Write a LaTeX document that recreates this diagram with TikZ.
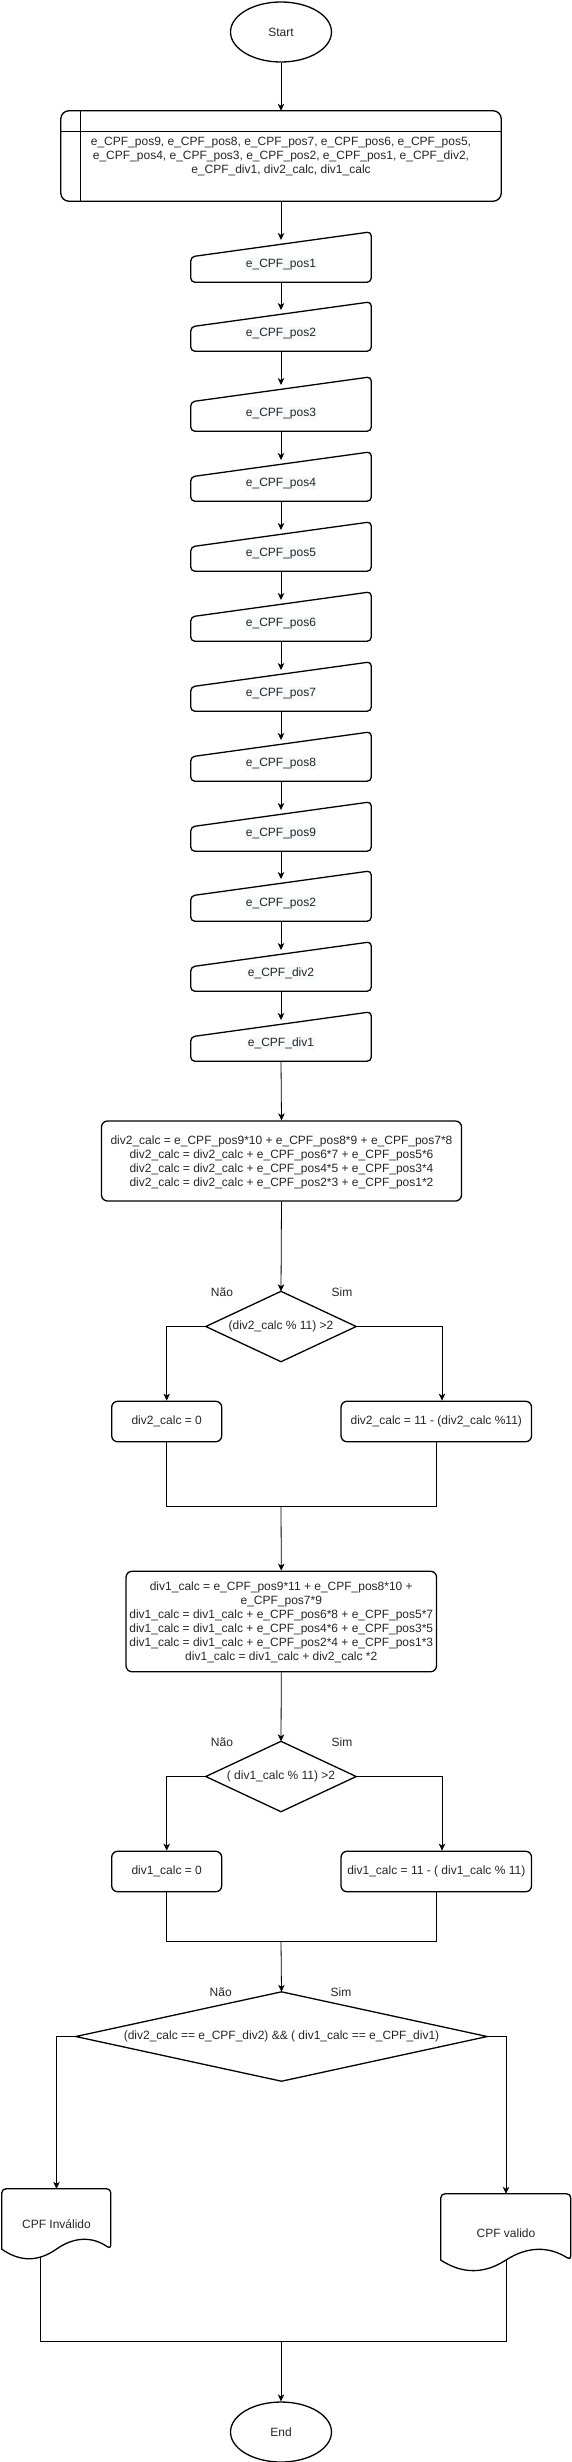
\documentclass[tikz,border=0pt]{standalone}
\usepackage{fontspec}
\setmainfont{Liberation Sans}
\usetikzlibrary{arrows.meta,shapes.geometric,calc}

\newcommand\MInBox[4]{% name, top, bottom, text
  \node[inner sep=0pt, minimum width=180pt, minimum height={(#3-#2)*1pt}] (#1) at (281,{(#2+#3)/2}) {};
  \draw[shp, rounded corners=4pt] (#1.south) -- (#1.south east) -- (#1.north east) -- ($(#1.north west)+(0,25)$) -- (#1.south west) -- cycle;
  \node[lbl] (#1t) at (281,{#3-17.5}) {#4};
  \coordinate (#1in) at (281,{#2+8});
}
\newcommand\DocShape[3]{% name, w, h
  \begin{scope}[shift={(#1.north west)}]
    \pgfmathsetmacro\dyy{0.3*#3}
    \draw[shp] (0,{#3-0.5*\dyy}) [rounded corners=4pt] -- (0,0) -- (#2,0) -- (#2,{#3-0.5*\dyy}) [sharp corners]
      .. controls ({5*#2/6},{#3-1.1*\dyy}) and ({2*#2/3},{#3-1.1*\dyy}) .. ({#2/2},{#3-0.5*\dyy})
      .. controls ({#2/3},{#3+0.1*\dyy}) and ({#2/6},{#3+0.1*\dyy}) .. (0,{#3-0.5*\dyy}) -- cycle;
  \end{scope}
}

\begin{document}
\begin{tikzpicture}[x=1pt,y=-1pt,
  font=\fontsize{12}{14}\selectfont,
  shp/.style={draw=black, line width=1.3pt},
  conn/.style={draw=black, line width=0.8pt},
  arr/.style={conn, -{Stealth[length=7pt,width=6.5pt,inset=2pt]}},
  txt/.style={text=black!85, align=center, inner sep=0pt},
  lbl/.style={txt, fill={rgb,255:red,248;green,249;blue,250}, inner sep=1pt},
  term/.style={shp, ellipse, minimum width=101pt, minimum height=60pt, inner sep=0pt, text=black!85},
  proc/.style={shp, rounded corners=6pt, inner sep=0pt, text=black!85, align=center},
  box/.style={inner sep=0pt, text=black!85, align=center}
]
\path[use as bounding box, fill=white] (0,0) rectangle (572,2462);

% start
\node[term] (start) at (281,32) {Start};

% variables (internal storage)
\node[inner sep=0pt, minimum width=440pt, minimum height=90pt] (vars) at (281,156) {};
\draw[shp, rounded corners=8pt] (vars.north west) rectangle (vars.south east);
\draw[shp] ($(vars.north west)+(0,21)$) -- ($(vars.north east)+(0,21)$);
\draw[shp] ($(vars.north west)+(20,0)$) -- ($(vars.south west)+(20,0)$);
\node[txt] (varst) at (281,157) {e\_CPF\_pos9, e\_CPF\_pos8, e\_CPF\_pos7, e\_CPF\_pos6, e\_CPF\_pos5,\\e\_CPF\_pos4, e\_CPF\_pos3, e\_CPF\_pos2, e\_CPF\_pos1, e\_CPF\_div2,\\e\_CPF\_div1, div2\_calc, div1\_calc};

% inputs
\MInBox{pa}{232}{282}{e\_CPF\_pos1}
\MInBox{pb}{302}{351}{e\_CPF\_pos2}
\MInBox{pc}{377}{431}{e\_CPF\_pos3}
\MInBox{pd}{452}{501}{e\_CPF\_pos4}
\MInBox{pe}{522}{571}{e\_CPF\_pos5}
\MInBox{pf}{592}{641}{e\_CPF\_pos6}
\MInBox{pg}{662}{711}{e\_CPF\_pos7}
\MInBox{ph}{732}{781}{e\_CPF\_pos8}
\MInBox{pi}{802}{851}{e\_CPF\_pos9}
\MInBox{pj}{871}{921}{e\_CPF\_pos2}
\MInBox{pk}{942}{991}{e\_CPF\_div2}
\MInBox{pl}{1012}{1061}{e\_CPF\_div1}

\draw[arr] (start) -- (vars);
\draw[arr] (vars.south) -- (pain);
\draw[arr] (pa.south) -- (pbin);
\draw[arr] (pb.south) -- (pcin);
\draw[arr] (pc.south) -- (pdin);
\draw[arr] (pd.south) -- (pein);
\draw[arr] (pe.south) -- (pfin);
\draw[arr] (pf.south) -- (pgin);
\draw[arr] (pg.south) -- (phin);
\draw[arr] (ph.south) -- (piin);
\draw[arr] (pi.south) -- (pjin);
\draw[arr] (pj.south) -- (pkin);
\draw[arr] (pk.south) -- (plin);

% calc 1
\node[proc, minimum width=360pt, minimum height=80pt] (calc1) at (281.5,1161) {};
\node[txt] (calc1t) at (281.5,1162.5) {div2\_calc = e\_CPF\_pos9*10 + e\_CPF\_pos8*9 + e\_CPF\_pos7*8\\div2\_calc = div2\_calc + e\_CPF\_pos6*7 + e\_CPF\_pos5*6\\div2\_calc = div2\_calc + e\_CPF\_pos4*5 + e\_CPF\_pos3*4\\div2\_calc = div2\_calc + e\_CPF\_pos2*3 + e\_CPF\_pos1*2};
\draw[arr] (pl.south) -- (calc1.north);

% decision 1
\node[box, minimum width=150pt, minimum height=70pt] (dec1) at (281,1326.5) {(div2\_calc \% 11) >2};
\draw[shp] (dec1.north) -- (dec1.east) -- (dec1.south) -- (dec1.west) -- cycle;
\node[txt] (n1) at (222,1292) {Não};
\node[txt] (s1) at (342,1292) {Sim};
\draw[arr] (calc1.south) -- (dec1.north);
\node[proc, minimum width=110pt, minimum height=40.5pt] (b1) at (166.7,1421.5) {div2\_calc = 0};
\node[proc, minimum width=190.5pt, minimum height=40.5pt] (b2) at (436.3,1421.5) {div2\_calc = 11 - (div2\_calc \%11)};
\draw[arr] (dec1.west) -| (b1.north);
\draw[arr] (dec1.east) -| ($(b2.north)+(5.7,0)$);
\coordinate (j1) at (281,1506);
\draw[conn] (b1.south) |- (j1);
\draw[conn] (b2.south) |- (j1);

% calc 2
\node[proc, minimum width=310.5pt, minimum height=100.5pt] (calc2) at (281.3,1621.5) {};
\node[txt] (calc2t) at (281.3,1622) {div1\_calc = e\_CPF\_pos9*11 + e\_CPF\_pos8*10 +\\e\_CPF\_pos7*9\\div1\_calc = div1\_calc + e\_CPF\_pos6*8 + e\_CPF\_pos5*7\\div1\_calc = div1\_calc + e\_CPF\_pos4*6 + e\_CPF\_pos3*5\\div1\_calc = div1\_calc + e\_CPF\_pos2*4 + e\_CPF\_pos1*3\\div1\_calc = div1\_calc + div2\_calc *2};
\draw[arr] (j1) -- (calc2.north);

% decision 2
\node[box, minimum width=150pt, minimum height=70pt] (dec2) at (281,1776.5) {( div1\_calc \% 11) >2};
\draw[shp] (dec2.north) -- (dec2.east) -- (dec2.south) -- (dec2.west) -- cycle;
\node[txt] (n2) at (222,1742) {Não};
\node[txt] (s2) at (342,1742) {Sim};
\draw[arr] (calc2.south) -- (dec2.north);
\node[proc, minimum width=110pt, minimum height=40.5pt] (b3) at (166.7,1871.5) {div1\_calc = 0};
\node[proc, minimum width=190.5pt, minimum height=40.5pt] (b4) at (436.3,1871.5) {div1\_calc = 11 - ( div1\_calc \% 11)};
\draw[arr] (dec2.west) -| (b3.north);
\draw[arr] (dec2.east) -| ($(b4.north)+(5.7,0)$);
\coordinate (j2) at (281,1941);
\draw[conn] (b3.south) |- (j2);
\draw[conn] (b4.south) |- (j2);

% decision 3
\node[box, minimum width=411pt, minimum height=89pt] (dec3) at (281.5,2036.5) {(div2\_calc == e\_CPF\_div2) \&\& ( div1\_calc == e\_CPF\_div1)};
\draw[shp] (dec3.north) -- (dec3.east) -- (dec3.south) -- (dec3.west) -- cycle;
\node[txt] (n3) at (220.7,1992) {Não};
\node[txt] (s3) at (341,1992) {Sim};
\draw[arr] (j2) -- (dec3.north);

% documents
\node[inner sep=0pt, minimum width=109pt, minimum height=71pt] (inv) at (56.5,2224.5) {};
\DocShape{inv}{109}{71}
\node[txt] (invt) at (56.5,2224) {CPF Inválido};
\node[inner sep=0pt, minimum width=130pt, minimum height=78pt] (val) at (506,2233) {};
\DocShape{val}{130}{78}
\node[txt] (valt) at (506,2233) {CPF valido};
\draw[arr] (dec3.west) -| (inv.north);
\draw[arr] (dec3.east) -| (val.north);

% end
\node[term] (end) at (281,2432) {End};
\coordinate (invout) at (40,2257);
\coordinate (valout) at (506,2260);
\coordinate (j3) at (281,2341);
\draw[conn] (invout) |- (j3);
\draw[conn] (valout) |- (j3);
\draw[arr] (j3) -- (end);
\end{tikzpicture}
\end{document}
